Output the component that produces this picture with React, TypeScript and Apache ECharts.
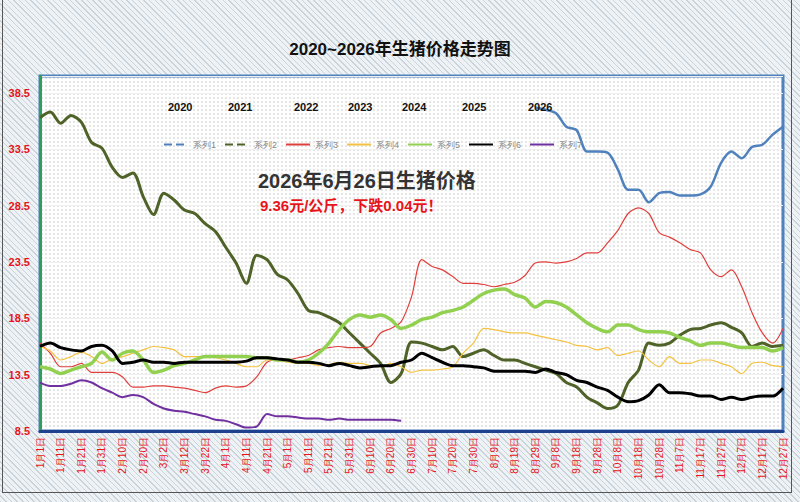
import { useEffect, useRef } from "react";
import * as echarts from "echarts";

// one point every 5 days, a tick label every 10 days
const dates: string[] = [];
for (let i = 0; i < 73; i++) {
  const d = new Date(2021, 0, 1 + i * 5);
  dates.push(`${d.getMonth() + 1}月${d.getDate()}日`);
}

const names = ["系列1", "系列2", "系列3", "系列4", "系列5", "系列6", "系列7"];
const years = ["2020", "2021", "2022", "2023", "2024", "2025", "2026"];
const yearX = [168, 228, 294, 348, 402, 462, 528];

const nulls = (n: number) => Array(n).fill(null);

const s1 = [
  ...nulls(48),
  37.2, 37.0, 36.7, 35.5, 35.2, 33.3, 33.3, 33.2, 31.7, 29.9, 29.9, 28.8, 29.6, 29.7, 29.4, 29.4, 29.5, 30.2,
  32.3, 33.3, 32.7, 33.7, 33.9, 34.8, 35.5,
];
const s2 = [
  36.3, 36.8, 35.8, 36.5, 35.9, 34.1, 33.6, 31.9, 31.0, 31.4, 29.3, 27.7, 29.6, 29.0, 28.1, 27.8, 26.9, 26.2,
  24.8, 23.4, 21.6, 24.1, 23.7, 22.4, 21.9, 20.7, 19.2, 19.0, 18.6, 18.1, 17.2, 16.3, 15.4, 14.5, 12.8, 13.6,
  16.4, 16.3, 16.0, 15.7, 16.0, 15.1, 15.4, 15.7, 15.2, 14.8, 14.8, 14.5, 14.2, 13.9, 13.6, 12.8, 12.4, 11.5,
  11.0, 10.5, 10.8, 12.8, 13.9, 16.3, 16.1, 16.3, 17.0, 17.5, 17.6, 17.9, 18.1, 17.7, 17.2, 16.0, 16.3, 16.0,
  16.1,
];
const s3 = [
  16.3, 15.4, 14.2, 14.2, 14.5, 13.7, 13.7, 13.7, 13.3, 12.4, 12.4, 12.5, 12.5, 12.4, 12.3, 12.1, 11.9, 12.3,
  12.5, 12.4, 12.5, 13.3, 14.6, 14.8, 14.8, 15.0, 15.2, 15.7, 15.9, 16.0, 15.9, 15.9, 16.0, 17.2, 17.6, 18.2,
  20.4, 23.7, 23.1, 22.8, 22.2, 21.6, 21.6, 21.5, 21.3, 21.5, 21.7, 22.3, 23.4, 23.5, 23.4, 23.5, 23.8, 24.3,
  24.3, 25.2, 26.3, 27.8, 28.3, 27.8, 26.1, 25.7, 25.2, 24.6, 24.3, 22.8, 22.2, 22.8, 21.3, 19.0, 17.2, 16.3,
  17.6,
];
const s4 = [
  16.0, 15.6, 14.8, 15.1, 15.5, 15.1, 14.5, 14.9, 15.1, 15.4, 15.7, 16.0, 15.9, 15.7, 15.1, 15.1, 15.1, 15.0,
  14.8, 14.5, 14.2, 14.2, 14.8, 14.8, 14.6, 14.5, 14.5, 14.3, 14.4, 14.6, 14.5, 14.5, 14.3, 14.2, 14.5, 14.2,
  13.7, 13.9, 13.9, 14.0, 14.2, 15.4, 16.3, 17.6, 17.5, 17.3, 17.2, 17.2, 17.0, 16.8, 16.6, 16.4, 16.1, 16.0,
  15.7, 15.9, 15.2, 15.4, 15.6, 14.8, 14.2, 15.1, 14.5, 14.5, 14.8, 14.8, 14.5, 14.2, 13.6, 14.5, 14.6, 14.3,
  14.2,
];
const s5 = [
  14.2, 14.0, 13.6, 13.9, 14.2, 14.5, 15.5, 14.8, 15.4, 15.6, 14.8, 13.7, 13.9, 14.3, 14.5, 14.8, 15.1, 15.1,
  15.1, 15.1, 15.1, 15.0, 15.0, 14.8, 14.8, 14.6, 14.8, 15.4, 16.3, 17.5, 18.4, 18.8, 18.6, 18.8, 18.4, 17.6,
  17.9, 18.4, 18.6, 19.0, 19.2, 19.5, 20.1, 20.7, 21.0, 21.1, 20.6, 20.3, 19.5, 20.0, 19.9, 19.5, 18.8, 18.1,
  17.6, 17.3, 17.9, 17.9, 17.5, 17.3, 17.3, 17.2, 16.8, 16.5, 16.1, 16.3, 16.3, 16.1, 15.9, 15.9, 15.9, 15.6,
  15.9,
];
const s6 = [
  16.0, 16.3, 15.9, 15.7, 15.6, 16.0, 16.1, 15.6, 14.5, 14.6, 14.8, 14.6, 14.6, 14.5, 14.6, 14.6, 14.6, 14.6,
  14.6, 14.6, 14.7, 15.0, 15.0, 14.9, 14.8, 14.6, 14.6, 14.5, 14.3, 14.5, 14.3, 14.1, 14.2, 14.3, 14.3, 14.6,
  14.8, 15.4, 15.0, 14.6, 14.3, 14.3, 14.2, 14.1, 13.8, 13.8, 13.8, 13.8, 13.7, 14.0, 13.7, 13.5, 13.0, 12.8,
  12.4, 12.1, 11.5, 11.1, 11.2, 11.7, 12.6, 11.9, 11.9, 11.8, 11.6, 11.6, 11.3, 11.5, 11.3, 11.5, 11.6, 11.6,
  12.3,
];
const s7 = [
  12.8, 12.5, 12.5, 12.7, 13.0, 12.8, 12.3, 11.9, 11.5, 11.7, 11.5, 10.9, 10.5, 10.3, 10.2, 10.0, 9.8, 9.5, 9.4,
  9.1, 8.8, 8.9, 10.0, 9.8, 9.8, 9.7, 9.6, 9.6, 9.5, 9.6, 9.5, 9.5, 9.5, 9.5, 9.5, 9.4,
];

const seriesData = [s1, s2, s3, s4, s5, s6, s7];
const colors = ["#4f81bd", "#4f6228", "#e0403c", "#f5c342", "#92d050", "#000000", "#7030a0"];
const widths = [2.5, 3, 1.2, 1.2, 3.5, 3, 2];

const plot = { left: 40, right: 17, top: 76, bottom: 71 };

export default function App() {
  const chartRef = useRef<HTMLDivElement>(null);

  useEffect(() => {
    if (!chartRef.current) return;
    const chart = echarts.init(chartRef.current, undefined, { renderer: "svg" });
    chart.setOption({
      animation: false,
      color: colors,
      title: {
        text: "2020~2026年生猪价格走势图",
        left: "center",
        top: 36,
        textStyle: { fontSize: 17, fontWeight: "bold", color: "#111", fontFamily: "Liberation Sans, Noto Sans CJK SC" },
      },
      legend: {
        left: 158,
        top: 135,
        itemWidth: 24,
        itemHeight: 8,
        itemGap: 8,
        textStyle: { fontSize: 9, color: "#888" },
        data: names.map((n, i) => ({
          name: n,
          itemStyle: { opacity: 0 },
          lineStyle: i < 2 ? { type: "dashed" } : undefined,
        })),
      },
      graphic: [
        ...years.map((y, i) => ({
          type: "text",
          left: yearX[i],
          top: 101,
          z: 100,
          style: { text: y, fontSize: 11, fontWeight: "bold", fill: "#111", fontFamily: "Liberation Sans" },
        })),
        {
          type: "text",
          left: 258,
          top: 171,
          z: 100,
          style: { text: "2026年6月26日生猪价格", fontSize: 20, fill: "#333", fontWeight: "bold", fontFamily: "Liberation Sans, Noto Sans CJK SC" },
        },
        {
          type: "text",
          left: 260,
          top: 198,
          z: 100,
          style: { text: "9.36元/公斤，下跌0.04元！", fontSize: 15, fill: "#e8141a", fontWeight: "bold", fontFamily: "Liberation Sans, Noto Sans CJK SC" },
        },
      ],
      grid: { ...plot, show: true, borderColor: "#4f81bd", borderWidth: 3, backgroundColor: "transparent" },
      xAxis: {
        type: "category",
        data: dates,
        boundaryGap: false,
        axisLine: { lineStyle: { color: "#1f3f8f", width: 3 } },
        axisTick: { show: false },
        axisLabel: { rotate: 90, interval: 1, color: "#e8141a", fontSize: 10, margin: 6 },
        splitLine: { show: false },
      },
      yAxis: {
        type: "value",
        min: 8.5,
        max: 40,
        interval: 5,
        axisLine: { show: true, lineStyle: { color: "#2e9e5a", width: 3 } },
        axisTick: { show: false },
        axisLabel: {
          color: "#e8141a",
          fontWeight: "bold",
          fontSize: 11,
          margin: 10,
          formatter: (v: number) => (v > 39 ? "" : v.toFixed(1)),
        },
        splitLine: { lineStyle: { color: "#f0f0f0" } },
      },
      series: seriesData.map((d, i) => ({
        name: names[i],
        type: "line",
        data: d,
        symbol: "none",
        smooth: 0.3,
        connectNulls: false,
        lineStyle: { width: widths[i], color: colors[i] },
      })),
    });
    return () => chart.dispose();
  }, []);

  return (
    <div
      style={{
        position: "absolute",
        left: 0,
        top: 0,
        width: 800,
        height: 502,
        background: "repeating-linear-gradient(45deg, #c9d3dc 0 1px, #eef2f5 1px 4px)",
      }}
    >
      <div
        style={{
          position: "absolute",
          left: 2,
          top: 0,
          width: 788,
          height: 492,
          borderLeft: "1px solid #555",
          borderBottom: "1px solid #555",
          borderRight: "1px solid #555",
        }}
      />
      <div
        style={{
          position: "absolute",
          left: plot.left,
          top: plot.top,
          width: 800 - plot.left - plot.right,
          height: 502 - plot.top - plot.bottom,
          backgroundColor: "#fff",
          backgroundImage: "radial-gradient(#c8c8c8 0.6px, transparent 0.8px)",
          backgroundSize: "4px 4px",
        }}
      />
      <div ref={chartRef} style={{ position: "absolute", left: 0, top: 0, width: 800, height: 502 }} />
    </div>
  );
}
